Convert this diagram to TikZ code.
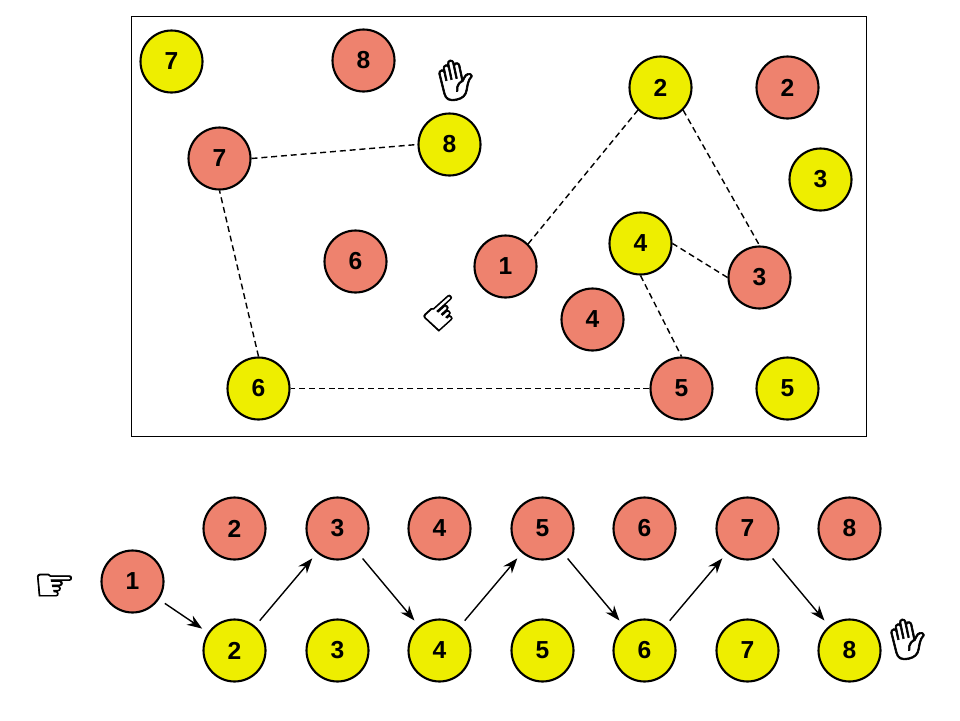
\documentclass[tikz,border=0pt]{standalone}
\usepackage{fontspec}
\setmainfont{Liberation Sans}
\newfontfamily\symbfont[FakeBold=1.5]{DejaVu Sans}
\newfontfamily\emojifont[FakeBold=1.5]{Noto Emoji}
\usetikzlibrary{arrows.meta}
\definecolor{salmonc}{RGB}{238,130,110}
\definecolor{yellowc}{RGB}{238,238,0}
\tikzset{
  rednode/.style={circle,draw,line width=1.2pt,fill=salmonc,minimum size=1.24cm,inner sep=0pt,font=\bfseries\fontsize{14}{14}\selectfont},
  yellownode/.style={rednode,fill=yellowc},
  dashline/.style={dash pattern=on 3.4pt off 2.2pt,line width=0.8pt},
  arrowline/.style={-{Stealth[length=3mm,width=2.2mm]},line width=0.8pt,shorten <=4pt,shorten >=4pt},
  pointnode/.style={font=\symbfont\fontsize{27}{27}\selectfont,inner sep=0pt},
  handnode/.style={font=\emojifont\fontsize{23}{23}\selectfont,inner sep=0pt,rotate=12}
}
\begin{document}
\begin{tikzpicture}[x=0.02cm,y=-0.02cm]
  \useasboundingbox (-0.5,-0.5) rectangle (959.5,719.5);
  \draw[line width=0.9pt] (131,16) rectangle (866,436);
  % upper box
  \foreach \n/\x/\y in {1/505/266,2/787/87,3/759/277,4/592/319,5/681/388,6/355/261,7/219/158,8/363/60} {
    \node[rednode] (r\n) at (\x,\y){\n};
  }
  \foreach \n/\x/\y in {2/660/87,3/820/179,4/640/243,5/787/388,6/258/388,7/171/61,8/449/144} {
    \node[yellownode] (y\n) at (\x,\y){\n};
  }
  \draw[dashline] (r1.north east)--(y2.south west);
  \draw[dashline] (y2.south east)--(r3.north);
  \draw[dashline] (r3.west)--(y4.east);
  \draw[dashline] (y4.south)--(r5.north);
  \draw[dashline] (r5.west)--(y6.east);
  \draw[dashline] (y6.north)--(r7.south);
  \draw[dashline] (r7.east)--(y8.west);
  \node[pointnode,rotate=42] (pointa) at (444,314){☞};
  \node[handnode] (handa) at (456,79){✋};
  % lower row
  \node[rednode] (b1) at (132,581){1};
  \foreach \n/\x in {2/234,3/337,4/439,5/542,6/644,7/747,8/849} {
    \node[rednode] (b\n) at (\x,528){\n};
    \node[yellownode] (c\n) at (\x,650){\n};
  }
  \draw[arrowline] (b1)--(c2);
  \draw[arrowline] (c2)--(b3);
  \draw[arrowline] (b3)--(c4);
  \draw[arrowline] (c4)--(b5);
  \draw[arrowline] (b5)--(c6);
  \draw[arrowline] (c6)--(b7);
  \draw[arrowline] (b7)--(c8);
  \node[pointnode] (pointb) at (54,587){☞};
  \node[handnode] (handb) at (908,638){✋};
\end{tikzpicture}
\end{document}
